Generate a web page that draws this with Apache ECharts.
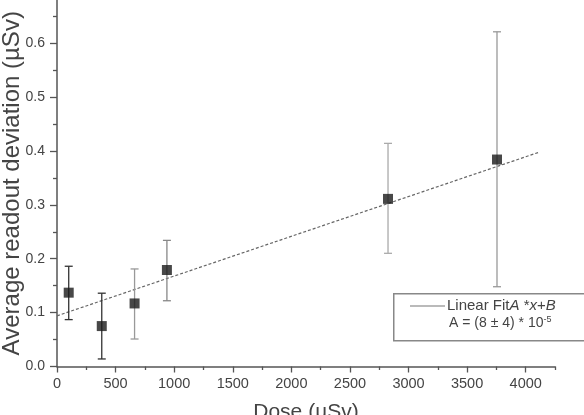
<!DOCTYPE html>
<html>
<head>
<meta charset="utf-8">
<script src="https://cdn.jsdelivr.net/npm/echarts@6/dist/echarts.min.js"></script>
<style>
html,body{margin:0;padding:0;background:#fff;}
#c{width:584px;height:415px;}
</style>
</head>
<body>
<div id="c"></div>
<script>
// Data
var doseX = [100, 382, 662, 938, 2825, 3755];
var meanY = [0.137, 0.075, 0.117, 0.179, 0.311, 0.384];
var errLow = [0.087, 0.014, 0.051, 0.122, 0.210, 0.148];
var errHigh = [0.186, 0.136, 0.181, 0.234, 0.414, 0.621];
var fitX = [0, 4120];
var fitY = [0.094, 0.398];
var xTicks = [0, 500, 1000, 1500, 2000, 2500, 3000, 3500, 4000];
var xMinorTicks = [250, 750, 1250, 1750, 2250, 2750, 3250, 3750, 4250];
var yTicks = [0, 0.1, 0.2, 0.3, 0.4, 0.5, 0.6];
var yMinorTicks = [0.05, 0.15, 0.25, 0.35, 0.45, 0.55, 0.65];
var errColors = ['#333', '#333', '#999', '#888', '#aaa', '#999'];

var font = "'Liberation Sans', Arial, sans-serif";
var axisColor = '#555';

var chart = echarts.init(document.getElementById('c'));

var errData = doseX.map(function (x, i) { return [x, meanY[i], errLow[i], errHigh[i], i]; });
var ptData = doseX.map(function (x, i) { return [x, meanY[i]]; });
var fitData = fitX.map(function (x, i) { return [x, fitY[i]]; });

chart.setOption({
  animation: false,
  grid: { left: 57, right: 29, top: 0, bottom: 48.5, containLabel: false, outerBoundsMode: 'none' },
  xAxis: [{
    type: 'value', min: 0, max: 4250,
    name: 'Dose (µSv)', nameLocation: 'middle', nameGap: 35, nameMoveOverlap: false,
    nameTextStyle: { fontFamily: font, fontSize: 21, color: '#444' },
    splitLine: { show: false },
    axisLine: { lineStyle: { color: axisColor, width: 1.5 } },
    axisTick: { show: true, length: 6, customValues: xTicks, lineStyle: { color: axisColor, width: 1.3 } },
    axisLabel: { customValues: xTicks, margin: 10, fontFamily: font, fontSize: 14.5, color: '#444',
      formatter: function (v) { return String(v); } }
  }, {
    type: 'value', min: 0, max: 4250, position: 'bottom',
    splitLine: { show: false },
    axisLine: { show: false },
    axisTick: { show: true, length: 3.5, customValues: xMinorTicks, lineStyle: { color: axisColor, width: 1.3 } },
    axisLabel: { show: false }
  }],
  yAxis: [{
    type: 'value', min: 0, max: 0.68,
    name: 'Average readout deviation (µSv)', nameLocation: 'middle', nameGap: 33, nameMoveOverlap: false,
    nameTextStyle: { fontFamily: font, fontSize: 24, color: '#444' },
    splitLine: { show: false },
    axisLine: { show: true, lineStyle: { color: axisColor, width: 1.5 } },
    axisTick: { show: true, length: 7, customValues: yTicks, lineStyle: { color: axisColor, width: 1.3 } },
    axisLabel: { customValues: yTicks, margin: 12, fontFamily: font, fontSize: 14, color: '#444',
      formatter: function (v) { return v.toFixed(1); } }
  }, {
    type: 'value', min: 0, max: 0.68, position: 'left',
    splitLine: { show: false },
    axisLine: { show: false },
    axisTick: { show: true, length: 4, customValues: yMinorTicks, lineStyle: { color: axisColor, width: 1.3 } },
    axisLabel: { show: false }
  }],
  series: [{
    type: 'line', data: fitData, symbol: 'none', z: 2,
    lineStyle: { color: '#666', width: 1.2, type: [3, 2] }
  }, {
    type: 'custom', z: 3,
    data: errData,
    renderItem: function (params, api) {
      var x = api.value(0);
      var lo = api.coord([x, api.value(2)]);
      var hi = api.coord([x, api.value(3)]);
      var c = errColors[api.value(4)];
      var hw = 4;
      var st = { stroke: c, lineWidth: 1.3 };
      return {
        type: 'group',
        children: [
          { type: 'line', shape: { x1: lo[0], y1: lo[1], x2: hi[0], y2: hi[1] }, style: st },
          { type: 'line', shape: { x1: lo[0] - hw, y1: lo[1], x2: lo[0] + hw, y2: lo[1] }, style: st },
          { type: 'line', shape: { x1: hi[0] - hw, y1: hi[1], x2: hi[0] + hw, y2: hi[1] }, style: st }
        ]
      };
    }
  }, {
    type: 'scatter', data: ptData, symbol: 'rect', symbolSize: 10, z: 4,
    itemStyle: { color: '#1a1a1a' }
  }],
  graphic: [{
    type: 'rect', left: 393, top: 293, z: 10,
    shape: { width: 220, height: 47 },
    style: { fill: '#fff', stroke: '#888', lineWidth: 1.5 }
  }, {
    type: 'line', z: 11,
    shape: { x1: 410, y1: 306, x2: 445, y2: 306 },
    style: { stroke: '#777', lineWidth: 1.2 }
  }, {
    type: 'text', z: 11, left: 447, top: 298,
    style: {
      text: '{n|Linear Fit}{i|A}{n| *}{i|x}{n|+}{i|B}',
      fill: '#444',
      rich: {
        n: { fontFamily: font, fontSize: 15, fill: '#444' },
        i: { fontFamily: font, fontSize: 15, fontStyle: 'italic', fill: '#444' }
      }
    }
  }, {
    type: 'text', z: 11, left: 449, top: 315,
    style: {
      text: '{n|A = (8 ± 4) * 10}{s|-5}',
      fill: '#444',
      rich: {
        n: { fontFamily: font, fontSize: 14, fill: '#444' },
        s: { fontFamily: font, fontSize: 9, fill: '#444', verticalAlign: 'top', padding: [0, 0, 8, 0] }
      }
    }
  }]
});
</script>
</body>
</html>
